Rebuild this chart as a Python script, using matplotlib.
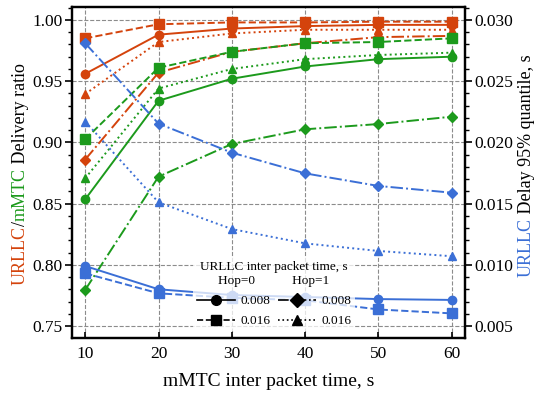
import matplotlib
matplotlib.use('Agg')
import matplotlib.pyplot as plt
from matplotlib.lines import Line2D
from matplotlib.ticker import MultipleLocator

plt.rcParams['font.family'] = ['Liberation Serif', 'DejaVu Serif']
plt.rcParams['mathtext.fontset'] = 'stix'

RED = '#d4430c'
GREEN = '#1c9a1c'
BLUE = '#3b6fd6'

mmtc_ipt = [10, 20, 30, 40, 50, 60]

# URLLC delivery ratio
urllc_dr_h0_008 = [0.956, 0.988, 0.993, 0.995, 0.996, 0.996]
urllc_dr_h0_016 = [0.985, 0.9965, 0.998, 0.998, 0.9986, 0.9986]
urllc_dr_h1_008 = [0.886, 0.957, 0.974, 0.981, 0.986, 0.987]
urllc_dr_h1_016 = [0.9395, 0.982, 0.989, 0.992, 0.992, 0.992]

# mMTC delivery ratio
mmtc_dr_h0_008 = [0.8535, 0.934, 0.952, 0.962, 0.968, 0.970]
mmtc_dr_h0_016 = [0.9026, 0.961, 0.974, 0.981, 0.982, 0.985]
mmtc_dr_h1_008 = [0.7795, 0.872, 0.8987, 0.9107, 0.915, 0.921]
mmtc_dr_h1_016 = [0.8707, 0.944, 0.960, 0.968, 0.9714, 0.9733]

# URLLC delay 95% quantile
delay_h0_008 = [0.0099, 0.0080, 0.00753, 0.00737, 0.0072, 0.00713]
delay_h0_016 = [0.0093, 0.00767, 0.0073, 0.0071, 0.00635, 0.00603]
delay_h1_008 = [0.0281, 0.02153, 0.01916, 0.01747, 0.01644, 0.01589]
delay_h1_016 = [0.0217, 0.0151, 0.01292, 0.01175, 0.01113, 0.0107]

styles = [('-', 'o'), ('--', 's'), ('-.', 'D'), (':', '^')]
legend_labels = ['0.008', '0.016', '0.008', '0.016']

fig = plt.figure(figsize=(5.35, 3.94), dpi=100)
ax = fig.add_axes([72 / 535, 56 / 394, 393 / 535, 331 / 394])
ax2 = ax.twinx()

lw = 1.4
for series, color in [((urllc_dr_h0_008, urllc_dr_h0_016, urllc_dr_h1_008, urllc_dr_h1_016), RED),
                      ((mmtc_dr_h0_008, mmtc_dr_h0_016, mmtc_dr_h1_008, mmtc_dr_h1_016), GREEN)]:
    for vals, (ls, mk) in zip(series, styles):
        ms = 6.5 if mk == 's' else (5.5 if mk == 'D' else 6)
        ax.plot(mmtc_ipt, vals, color=color, ls=ls, marker=mk, lw=lw, ms=ms)

for vals, (ls, mk) in zip((delay_h0_008, delay_h0_016, delay_h1_008, delay_h1_016), styles):
    ms = 6.5 if mk == 's' else (5.5 if mk == 'D' else 6)
    ax2.plot(mmtc_ipt, vals, color=BLUE, ls=ls, marker=mk, lw=lw, ms=ms)

ax.set_xlim(8.2, 61.8)
ylo, yhi = 0.7402, 1.0106
ax.set_ylim(ylo, yhi)
ax2.set_ylim(0.005 + (ylo - 0.75) * 0.1, 0.005 + (yhi - 0.75) * 0.1)

ax.set_xticks(mmtc_ipt)
ax.yaxis.set_major_locator(MultipleLocator(0.05))
ax.yaxis.set_minor_locator(MultipleLocator(0.01))
ax2.yaxis.set_major_locator(MultipleLocator(0.005))
ax2.yaxis.set_minor_locator(MultipleLocator(0.001))
ax.yaxis.set_major_formatter(matplotlib.ticker.FormatStrFormatter('%.2f'))
ax2.yaxis.set_major_formatter(matplotlib.ticker.FormatStrFormatter('%.3f'))

ax.grid(True, ls='--', color='#8c8c8c', lw=0.8)
ax.tick_params(axis='x', direction='in', length=4, width=1.2, labelsize=12.5, pad=6)
ax.tick_params(axis='y', which='major', direction='out', length=5, width=1.2, labelsize=12.5, pad=2)
ax.tick_params(axis='y', which='minor', direction='out', length=3, width=1.0)
ax2.tick_params(axis='y', which='major', direction='out', length=5, width=1.2, labelsize=12.5, pad=2)
ax2.tick_params(axis='y', which='minor', direction='out', length=3, width=1.0)
for a in (ax, ax2):
    for sp in a.spines.values():
        sp.set_linewidth(1.6)

ax.set_xlabel('mMTC inter packet time, s', fontsize=14, labelpad=8)

# legend (black handles)
handles = [Line2D([], [], color='black', ls=ls, marker=mk, lw=1.2, ms=7) for ls, mk in styles]
leg = ax2.legend(handles, legend_labels, ncol=2, fontsize=9.5,
                 title='URLLC inter packet time, s\nHop=0           Hop=1',
                 title_fontsize=9.5, loc='lower left', bbox_to_anchor=(0.29, 0.0),
                 handlelength=2.9, handletextpad=0.4, columnspacing=0.6,
                 frameon=True, framealpha=0.75, edgecolor='none', fancybox=False,
                 borderpad=0.3, labelspacing=0.6)
leg.get_title().set_multialignment('center')


def colored_label(parts, x, yc, size=13):
    # draw rotated multi-coloured label centred on yc (figure coords)
    fig.canvas.draw()
    r = fig.canvas.get_renderer()
    full = ''.join(p for p, _ in parts)
    tmp = fig.text(0, 0, full, fontsize=size)
    total = tmp.get_window_extent(r).width
    tmp.remove()
    y0 = yc * fig.bbox.height - total / 2
    prefix = ''
    for txt, c in parts:
        off = 0
        if prefix:
            t = fig.text(0, 0, prefix, fontsize=size)
            off = t.get_window_extent(r).width
            t.remove()
        fig.text(x, (y0 + off) / fig.bbox.height, txt, color=c, fontsize=size,
                 rotation=90, rotation_mode='anchor', ha='left', va='baseline')
        prefix += txt


colored_label([('URLLC', RED), ('/', 'black'), ('mMTC', GREEN), (' Delivery ratio', 'black')],
              25 / 535, 1 - 174 / 394)
colored_label([('URLLC', BLUE), (' Delay 95% quantile, s', 'black')],
              531 / 535, 1 - 166 / 394)

fig.savefig('out.png', dpi=100)
